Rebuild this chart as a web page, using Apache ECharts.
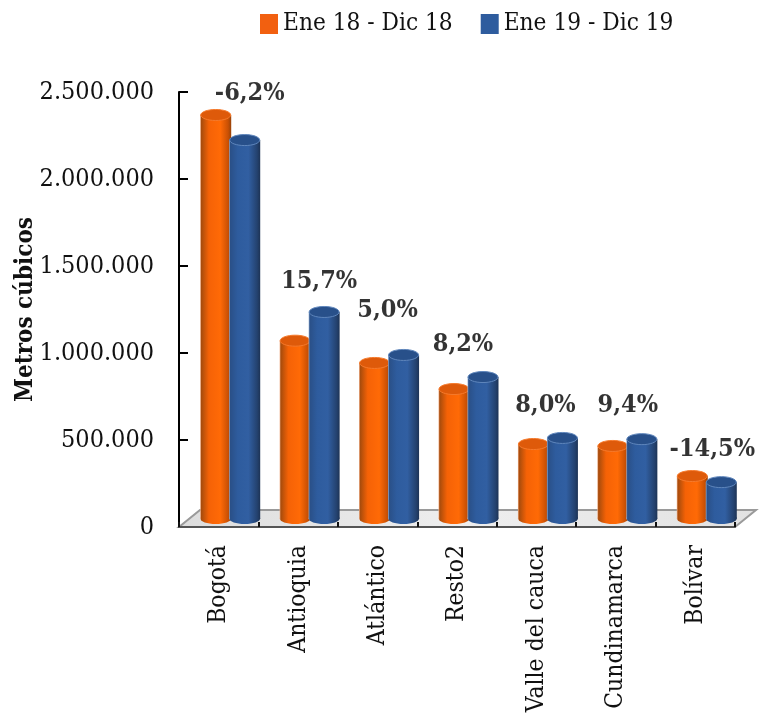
<!DOCTYPE html>
<html><head><meta charset="utf-8">
<style>html,body{margin:0;padding:0;background:#fff}#c{width:760px;height:713px}</style>
<script src="https://cdn.jsdelivr.net/npm/echarts@6/dist/echarts.min.js"></script>
</head><body><div id="c"></div>
<script>
const categories = ['Bogotá','Antioquia','Atlántico','Resto2','Valle del cauca','Cundinamarca','Bolívar'];
const serie2018 = [2319000,1022000,894000,744000,428000,417000,244000];
const serie2019 = [2175000,1187000,940000,813000,463000,456000,209000];
const variacion = ['-6,2%','15,7%','5,0%','8,2%','8,0%','9,4%','-14,5%'];
const alturaEtiqueta = [2490000,1410000,1243000,1048000,697000,697000,444000];
const desplazaEtiqueta = [31,21,10,6,9,12,17];
const FONT = '"DejaVu Serif Condensed","DejaVu Serif","Liberation Serif",serif';
const DEPTH_X = 21, DEPTH_Y = 17;
const BAR_W = 31, BAR_STEP = 29, RY = 5.5, BASE_UP = 8.5, SHIFT_X = 11.5;

function grad(stops){
  return new echarts.graphic.LinearGradient(0,0,1,0,stops.map(s=>({offset:s[0],color:s[1]})));
}
const palette = {
  o:{body:[[0,'#F0B08A'],[0.04,'#A84C0C'],[0.28,'#F56206'],[0.65,'#FF6A06'],[0.9,'#C95004'],[1,'#96430A']],
     top:'#DE5A0A', rim:'#F57A2C', solid:'#F26010'},
  b:{body:[[0,'#9DB6D8'],[0.04,'#2A5088'],[0.28,'#2E5C9E'],[0.62,'#315FA2'],[0.9,'#24426F'],[1,'#1D3355']],
     top:'#28508A', rim:'#5F86BC', solid:'#2E5C9E'}
};
function cylinder(key,dir){
  const p = palette[key];
  return function(params,api){
    const base = api.coord([api.value(0),0]);
    const top = api.coord([api.value(0),api.value(1)]);
    const cx = base[0]+SHIFT_X+dir*BAR_STEP/2;
    const yb = base[1]-BASE_UP, yt = top[1]-BASE_UP;
    const fill = grad(p.body);
    return {type:'group',children:[
      {type:'rect',shape:{x:cx-BAR_W/2,y:yt,width:BAR_W,height:yb-yt},style:{fill:fill}},
      {type:'ellipse',shape:{cx:cx,cy:yb,rx:BAR_W/2,ry:RY},style:{fill:fill}},
      {type:'ellipse',shape:{cx:cx,cy:yt,rx:BAR_W/2-0.5,ry:RY},style:{fill:p.top,stroke:p.rim,lineWidth:1}}
    ]};
  };
}
function floor(params,api){
  const c = params.coordSys, x0=c.x, x1=c.x+c.width, y=c.y+c.height;
  return {type:'polygon',shape:{points:[[x0,y],[x1,y],[x1+DEPTH_X,y-DEPTH_Y],[x0+DEPTH_X,y-DEPTH_Y]]},
    style:{fill:new echarts.graphic.LinearGradient(0,0,1,0,[{offset:0,color:'#DDD'},{offset:0.5,color:'#EEE'},{offset:1,color:'#E2E2E2'}]),stroke:'#9A9A9A',lineWidth:2}};
}
const chart = echarts.init(document.getElementById('c'),null,{renderer:'canvas'});
chart.setOption({
  animation:false,
  legend:{left:255,top:7,padding:5,itemWidth:18,itemHeight:20,itemGap:28,
    data:['Ene 18 - Dic 18','Ene 19 - Dic 19'],icon:'rect',
    textStyle:{fontFamily:FONT,fontSize:24.2,color:'#111',padding:[0,0,0,0]}},
  grid:{left:179,right:25,top:92,bottom:186,outerBoundsMode:'none'},
  xAxis:{type:'category',data:categories,z:1,
    axisLine:{lineStyle:{color:'#555',width:2}},
    axisTick:{show:true,inside:true,length:5,lineStyle:{color:'#111',width:2},alignWithLabel:false},
    axisLabel:{rotate:90,fontFamily:FONT,fontSize:24.5,color:'#111',margin:18,interval:0}},
  yAxis:{type:'value',min:0,max:2500000,interval:500000,name:'Metros cúbicos',nameLocation:'middle',nameGap:141,nameMoveOverlap:false,
    nameTextStyle:{fontFamily:FONT,fontSize:24,fontWeight:'bold',color:'#111'},
    axisLine:{show:true,lineStyle:{color:'#000',width:2}},
    axisTick:{show:true,inside:true,length:9,lineStyle:{color:'#000',width:2}},
    splitLine:{show:false},
    axisLabel:{fontFamily:FONT,fontSize:25,color:'#111',margin:25,
      formatter:v=>String(v).replace(/\B(?=(\d{3})+$)/g,'.')}},
  series:[
    {name:'piso',type:'custom',z:0,silent:true,renderItem:floor,data:[[0,0]],encode:{x:0,y:1}},
    {name:'Ene 18 - Dic 18',type:'custom',z:2,itemStyle:{color:palette.o.solid},renderItem:cylinder('o',-1),
      data:serie2018.map((v,i)=>[i,v]),encode:{x:0,y:1}},
    {name:'Ene 19 - Dic 19',type:'custom',z:3,itemStyle:{color:palette.b.solid},renderItem:cylinder('b',1),
      data:serie2019.map((v,i)=>[i,v]),encode:{x:0,y:1}},
    {name:'variacion',type:'scatter',z:5,symbolSize:0,silent:true,
      data:alturaEtiqueta.map((v,i)=>({value:[i,v],
        label:{show:true,position:'inside',formatter:variacion[i],offset:[desplazaEtiqueta[i],0],
          fontFamily:FONT,fontSize:25,fontWeight:'bold',color:'#000',textBorderWidth:0}}))}
  ]
});
</script></body></html>
